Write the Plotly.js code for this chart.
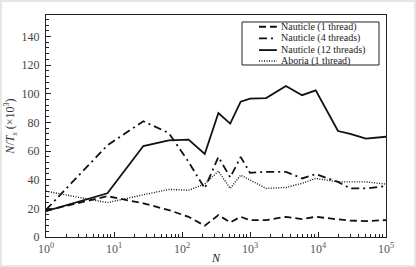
<!DOCTYPE html>
<html><head><meta charset="utf-8">
<script src="https://cdn.plot.ly/plotly-3.0.1.min.js"></script>
<style>
html,body{margin:0;padding:0;background:#e6e6e6;width:416px;height:267px;overflow:hidden;}
#chart{position:absolute;left:2px;top:2px;width:412px;height:263px;background:#fff;}
</style></head>
<body><div id="chart"></div>
<script>
// Data
const N = [1, 8, 27, 64, 125, 216, 343, 512, 729, 1000, 1728, 3375, 5832, 9261, 19683, 29791, 50653, 100000];
const nauticle1 = [18.5, 28.5, 23.5, 18.8, 14.1, 7.9, 15.3, 10.2, 14.1, 11.8, 11.8, 14.1, 12.5, 14.1, 12.3, 11.5, 11.1, 11.8];
const nauticle4 = [19, 64, 80.8, 72.6, 52.4, 33.9, 55.9, 41.6, 55.9, 44.8, 45.5, 45.5, 40.9, 43.9, 38.5, 33.9, 33.9, 35.5];
const nauticle12 = [18, 30.5, 63.5, 67.5, 68, 58, 86.6, 79.2, 94.5, 96.6, 97, 105.4, 99, 102.4, 74, 72, 68.7, 70];
const aboria1 = [32, 24, 29.5, 33.2, 32.7, 36.9, 46, 33.9, 43.2, 39.7, 33.9, 34.6, 37.5, 40.9, 38.5, 38.5, 38.5, 36.9];
const seriesNames = ['Nauticle (1 thread)', 'Nauticle (4 threads)', 'Nauticle (12 threads)', 'Aboria (1 thread)'];
const xTickVals = [1, 10, 100, 1000, 10000, 100000];
const xTickText = ['10<sup>0</sup>', '10<sup>1</sup>', '10<sup>2</sup>', '10<sup>3</sup>', '10<sup>4</sup>', '10<sup>5</sup>'];

const serif = 'Liberation Serif, Times New Roman, serif';
const styles = [
  {dash: '7px,4px', width: 1.8},
  {dash: '8px,4px,2px,4px', width: 1.8},
  {dash: 'solid', width: 1.8},
  {dash: '1px,1.5px', width: 1.4}
];
const ys = [nauticle1, nauticle4, nauticle12, aboria1];
const traces = ys.map((y, i) => ({
  x: N, y: y, name: seriesNames[i], type: 'scatter', mode: 'lines',
  line: {color: '#111', width: styles[i].width, dash: styles[i].dash},
  showlegend: false, hoverinfo: 'skip'
}));

// custom compact legend
const shapes = [{type: 'rect', xref: 'paper', yref: 'paper', x0: 0.5765, x1: 0.9794, y0: 0.7748, y1: 0.9685,
  line: {color: '#222', width: 1}, fillcolor: '#fff', layer: 'above'}];
const annotations = [];
const rowY = [0.947, 0.895, 0.842, 0.793];
seriesNames.forEach((nm, i) => {
  shapes.push({type: 'line', xref: 'paper', yref: 'paper', x0: 0.6265, x1: 0.679, y0: rowY[i], y1: rowY[i],
    line: {color: '#111', width: styles[i].width, dash: styles[i].dash}, layer: 'above'});
  annotations.push({xref: 'paper', yref: 'paper', x: 0.684, y: rowY[i], xanchor: 'left', yanchor: 'middle',
    text: nm, showarrow: false, font: {family: serif, size: 10, color: '#222'}});
});

const layout = {
  width: 412, height: 263,
  margin: {l: 44, r: 28, t: 13, b: 28},
  paper_bgcolor: '#fff', plot_bgcolor: '#fff',
  font: {family: serif, size: 12, color: '#444'},
  xaxis: {
    type: 'log', range: [0, 5], tickvals: xTickVals, ticktext: xTickText,
    ticks: 'inside', ticklen: 5, tickcolor: '#222', showgrid: false, zeroline: false,
    showline: true, linecolor: '#222', linewidth: 1.2, mirror: true,
    minor: {dtick: 'D1', ticks: 'inside', ticklen: 3, tickcolor: '#222', showgrid: false},
    tickfont: {family: serif, size: 12, color: '#555'},
    title: {text: '<i>N</i>', font: {family: serif, size: 12, color: '#222'}, standoff: 1}
  },
  yaxis: {
    range: [0, 155], dtick: 20, tick0: 0,
    ticks: 'inside', ticklen: 5, tickcolor: '#222', showgrid: false, zeroline: false,
    showline: true, linecolor: '#222', linewidth: 1.2, mirror: true,
    minor: {dtick: 4, ticks: 'inside', ticklen: 3, tickcolor: '#222', showgrid: false},
    tickfont: {family: serif, size: 12, color: '#444'},
    ticklabelstandoff: 3,
    title: {text: '<i>N</i>/<i>T</i><sub><i>s</i></sub> (×10<sup>3</sup>)', font: {family: serif, size: 12, color: '#333'}, standoff: 5}
  },
  shapes: shapes, annotations: annotations, showlegend: false
};
Plotly.newPlot('chart', traces, layout, {staticPlot: true, displayModeBar: false});
</script></body></html>
